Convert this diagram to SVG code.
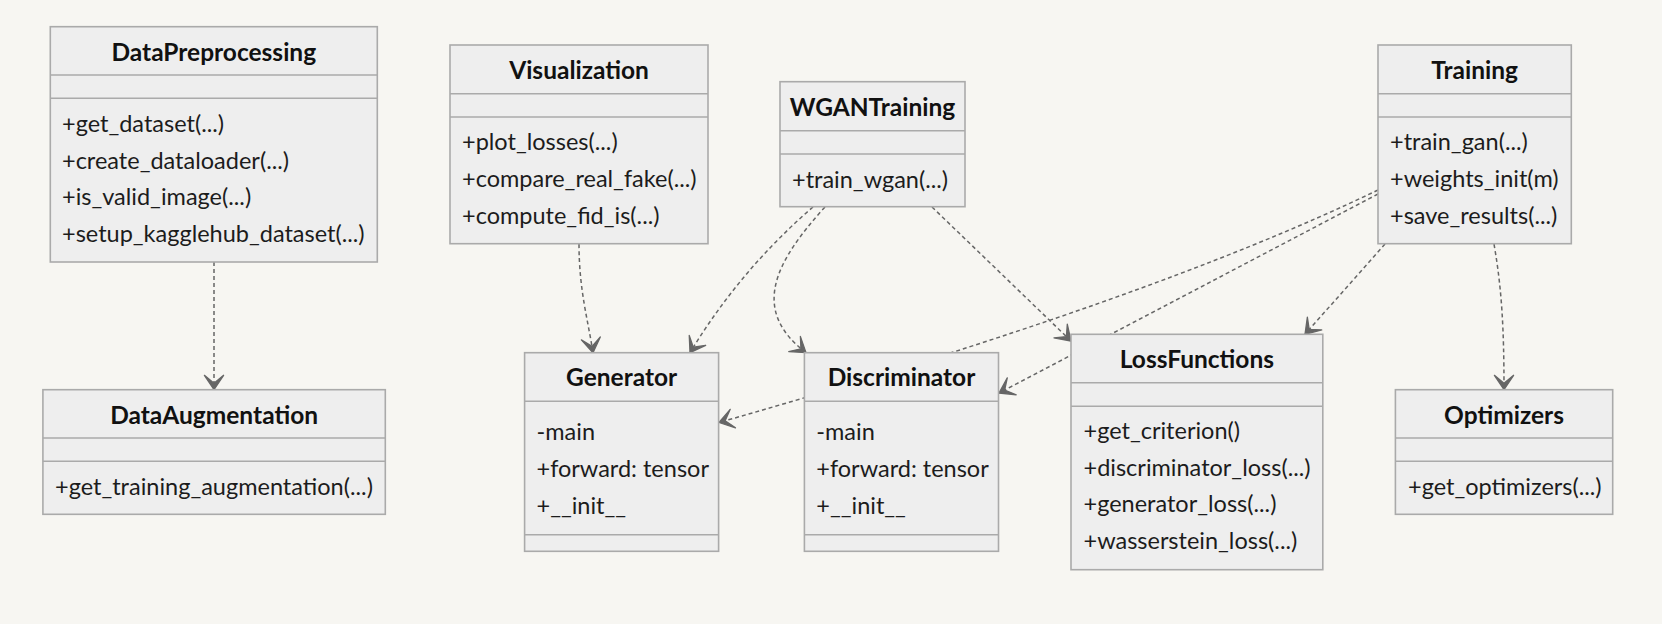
<svg xmlns="http://www.w3.org/2000/svg" width="1662" height="624" viewBox="0 0 1662 624">
<defs>
<style>
.box{fill:#eeeeee;stroke:#aaaaaa;stroke-width:1.6}
.div{stroke:#aaaaaa;stroke-width:1.6}
.title{font-family:Lato,"Liberation Sans",sans-serif;font-weight:bold;font-size:24.5px;fill:#111111;text-anchor:middle}
.mem{font-family:Lato,"Liberation Sans",sans-serif;font-size:23.5px;fill:#1c1c1c}
.edge{fill:none;stroke:#666666;stroke-width:1.5;stroke-dasharray:4 3;marker-end:url(#dep)}
</style>
<marker id="dep" viewBox="0 0 20 14" refX="18" refY="7" markerWidth="32" markerHeight="22.4" markerUnits="userSpaceOnUse" orient="auto">
<path d="M18,7 L9,13 L14,7 L9,1 Z" fill="#666666" stroke="#666666" stroke-width="0.8" stroke-linejoin="round"/>
</marker>
</defs>
<rect x="0" y="0" width="1662" height="624" fill="#f7f6f2"/>
<g id="connectors">
<path class="edge" d="M214,262 L214,389.7"/>
<path class="edge" d="M579,244 C579,290 588,320 593,352.7"/>
<path class="edge" d="M813,207 Q740,270 690,352.7"/>
<path class="edge" d="M825,207 C775,262 750,310 806,352.7"/>
<path class="edge" d="M932,207 L1071,341"/>
<path class="edge" d="M1378,190 Q1150,300 719,422.5"/>
<path class="edge" d="M1378,194 L999,393"/>
<path class="edge" d="M1385,244 L1305,334.3"/>
<path class="edge" d="M1494,244 C1502,290 1504,330 1504,389.7"/>
</g>
<g id="DataPreprocessing">
<rect class="box" x="50.3" y="26.7" width="327" height="235.3"/>
<line class="div" x1="50.3" y1="75" x2="377.3" y2="75"/>
<line class="div" x1="50.3" y1="98.3" x2="377.3" y2="98.3"/>
<text class="title" x="213.8" y="60.5">DataPreprocessing</text>
<text class="mem" x="62" y="132">+get_dataset(...)</text>
<text class="mem" x="62" y="168.6">+create_dataloader(...)</text>
<text class="mem" x="62" y="205.2">+is_valid_image(...)</text>
<text class="mem" x="62" y="241.8">+setup_kagglehub_dataset(...)</text>
</g>
<g id="Visualization">
<rect class="box" x="450" y="45" width="258" height="198.7"/>
<line class="div" x1="450" y1="93.7" x2="708" y2="93.7"/>
<line class="div" x1="450" y1="117" x2="708" y2="117"/>
<text class="title" x="579" y="78.7">Visualization</text>
<text class="mem" x="462" y="150.3">+plot_losses(...)</text>
<text class="mem" x="462" y="186.9">+compare_real_fake(...)</text>
<text class="mem" x="462" y="223.5">+compute_fid_is(...)</text>
</g>
<g id="WGANTraining">
<rect class="box" x="780" y="81.7" width="185" height="125"/>
<line class="div" x1="780" y1="130.7" x2="965" y2="130.7"/>
<line class="div" x1="780" y1="154" x2="965" y2="154"/>
<text class="title" x="872.5" y="115.5">WGANTraining</text>
<text class="mem" x="792" y="188.3">+train_wgan(...)</text>
</g>
<g id="Training">
<rect class="box" x="1378" y="45" width="193.3" height="198.7"/>
<line class="div" x1="1378" y1="93.7" x2="1571.3" y2="93.7"/>
<line class="div" x1="1378" y1="117" x2="1571.3" y2="117"/>
<text class="title" x="1474.6" y="78.7">Training</text>
<text class="mem" x="1390" y="150.3">+train_gan(...)</text>
<text class="mem" x="1390" y="186.9">+weights_init(m)</text>
<text class="mem" x="1390" y="223.5">+save_results(...)</text>
</g>
<g id="DataAugmentation">
<rect class="box" x="42.9" y="389.7" width="342.4" height="124.6"/>
<line class="div" x1="42.9" y1="438" x2="385.3" y2="438"/>
<line class="div" x1="42.9" y1="461.3" x2="385.3" y2="461.3"/>
<text class="title" x="214.1" y="423.5">DataAugmentation</text>
<text class="mem" x="55" y="494.7">+get_training_augmentation(...)</text>
</g>
<g id="Generator">
<rect class="box" x="524.6" y="352.7" width="194" height="198.6"/>
<line class="div" x1="524.6" y1="401.3" x2="718.6" y2="401.3"/>
<line class="div" x1="524.6" y1="534.7" x2="718.6" y2="534.7"/>
<text class="title" x="621.6" y="386.3">Generator</text>
<text class="mem" x="536.5" y="440.3">-main</text>
<text class="mem" x="536.5" y="477">+forward: tensor</text>
<text class="mem" x="536.5" y="513.6">+__init__</text>
</g>
<g id="Discriminator">
<rect class="box" x="804.4" y="352.7" width="194.1" height="198.6"/>
<line class="div" x1="804.4" y1="401.3" x2="998.5" y2="401.3"/>
<line class="div" x1="804.4" y1="534.7" x2="998.5" y2="534.7"/>
<text class="title" x="901.5" y="386.3">Discriminator</text>
<text class="mem" x="816.3" y="440.3">-main</text>
<text class="mem" x="816.3" y="477">+forward: tensor</text>
<text class="mem" x="816.3" y="513.6">+__init__</text>
</g>
<g id="LossFunctions">
<rect class="box" x="1071" y="334.3" width="251.8" height="235.4"/>
<line class="div" x1="1071" y1="382.7" x2="1322.8" y2="382.7"/>
<line class="div" x1="1071" y1="406.3" x2="1322.8" y2="406.3"/>
<text class="title" x="1196.9" y="368">LossFunctions</text>
<text class="mem" x="1083.5" y="439">+get_criterion()</text>
<text class="mem" x="1083.5" y="475.6">+discriminator_loss(...)</text>
<text class="mem" x="1083.5" y="512.2">+generator_loss(...)</text>
<text class="mem" x="1083.5" y="548.8">+wasserstein_loss(...)</text>
</g>
<g id="Optimizers">
<rect class="box" x="1395.4" y="389.7" width="217.3" height="124.6"/>
<line class="div" x1="1395.4" y1="438" x2="1612.7" y2="438"/>
<line class="div" x1="1395.4" y1="461.3" x2="1612.7" y2="461.3"/>
<text class="title" x="1504" y="423.5">Optimizers</text>
<text class="mem" x="1408" y="494.7">+get_optimizers(...)</text>
</g>
</svg>
